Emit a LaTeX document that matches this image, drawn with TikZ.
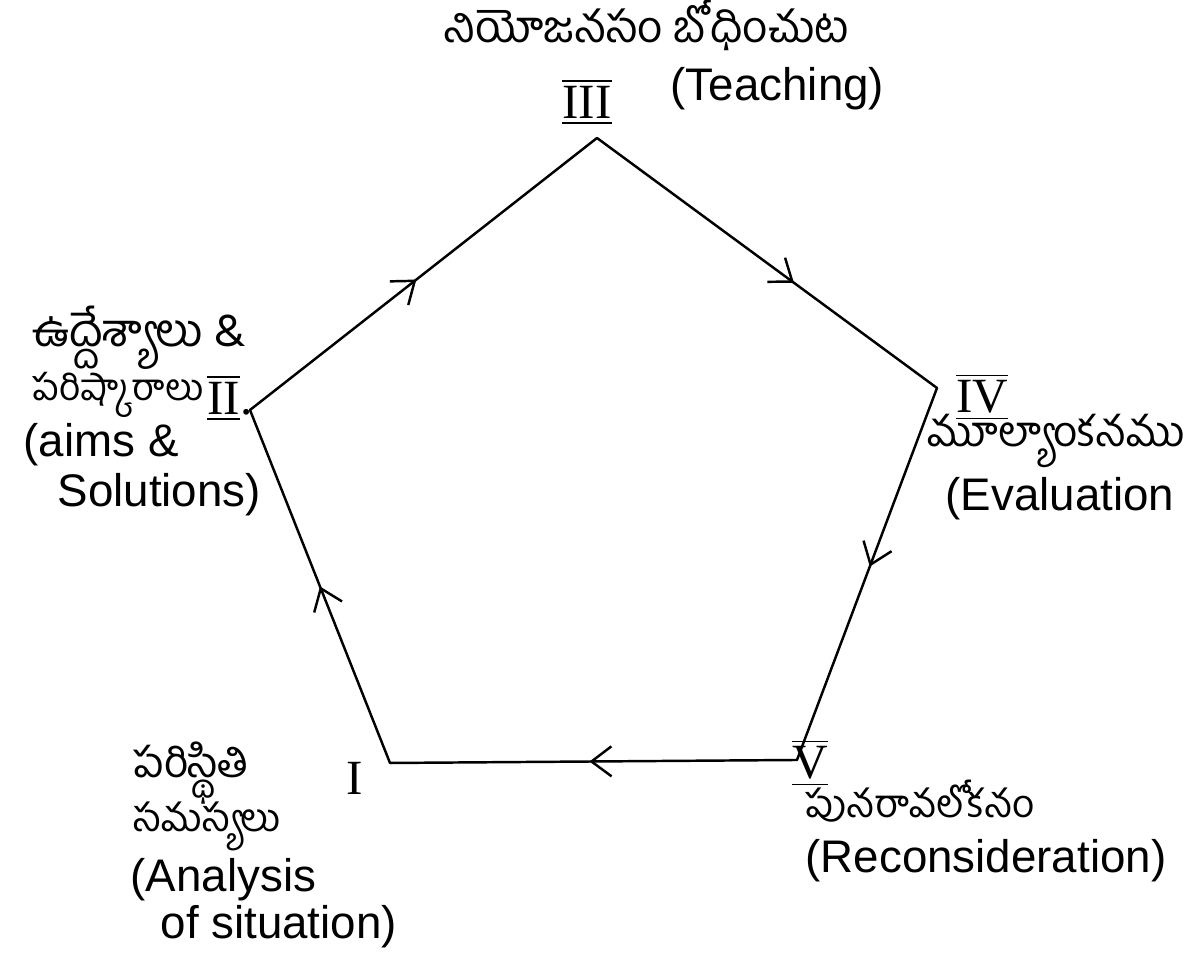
\documentclass[tikz,border=0pt]{standalone}
\usepackage{fontspec}
\setmainfont{Liberation Sans}
\newfontfamily\telugu[Script=Telugu]{Hind Guntur}
\newfontfamily\numfont{Liberation Serif}
\newcommand\barred[1]{$\overline{\underline{\hbox{#1}}}$}
\usetikzlibrary{arrows.meta,decorations.markings}

\begin{document}
\begin{tikzpicture}[
    side/.style={line width=0.7pt, line cap=round, postaction={decorate},
      decoration={markings, mark=at position #1 with {\arrow{Straight Barb[length=2mm,width=3mm]}}}},
    side/.default=0.5,
    num/.style={font=\numfont\fontsize{14}{16}\selectfont, inner sep=0pt},
    tel/.style={font=\telugu\fontsize{#1}{#1}\selectfont, anchor=west, inner sep=0pt},
    tel/.default=12.5,
    eng/.style={font=\fontsize{13}{16}\selectfont, anchor=west, inner sep=0pt}
]
\useasboundingbox (0,0) rectangle (11.91,9.53);

% corners of the cycle
\coordinate (v1) at (3.90,1.90);
\coordinate (v2) at (2.50,5.43);
\coordinate (v3) at (5.97,8.15);
\coordinate (v4) at (9.37,5.65);
\coordinate (v5) at (7.97,1.93);

\draw[side=0.5]  (v1) -- (v2);
\draw[side=0.48] (v2) -- (v3);
\draw[side=0.58] (v3) -- (v4);
\draw[side=0.48] (v4) -- (v5);
\draw[side=0.51] (v5) -- (v1);

% I
\node[num] (n1) at (3.55,1.75) {I};
\node[tel=12] (t1a) at (1.33,1.80) {పరిస్థితి};
\node[tel=11] (t1b) at (1.33,1.27) {సమస్యలు};
\node[eng] (e1a) at (1.30,0.73) {(Analysis};
\node[eng] (e1b) at (1.60,0.26) {of situation)};

% II
\node[num] (n2) at (2.30,5.55) {\barred{II}.};
\node[tel=13] (t2a) at (0.32,6.15) {ఉద్దేశ్యాలు \&};
\node[tel=10.5] (t2b) at (0.32,5.58) {పరిష్కారాలు};
\node[eng] (e2a) at (0.23,5.08) {(aims \&};
\node[eng] (e2b) at (0.57,4.58) {Solutions)};

% III
\node[num] (n3) at (5.87,8.51) {\barred{III}};
\node[tel] (t3) at (4.43,9.28) {నియోజనసం బోధించుట};
\node[eng] (e3) at (6.70,8.64) {(Teaching)};

% IV
\node[num] (n4) at (9.82,5.56) {\barred{IV}};
\node[tel=12] (t4) at (9.27,5.12) {మూల్యాంకనము};
\node[eng] (e4) at (9.45,4.54) {(Evaluation};

% V
\node[num] (n5) at (8.10,1.90) {\barred{V}};
\node[tel=11] (t5) at (8.05,1.52) {పునరావలోకనం};
\node[eng] (e5) at (8.05,0.92) {(Reconsideration)};
\end{tikzpicture}
\end{document}
